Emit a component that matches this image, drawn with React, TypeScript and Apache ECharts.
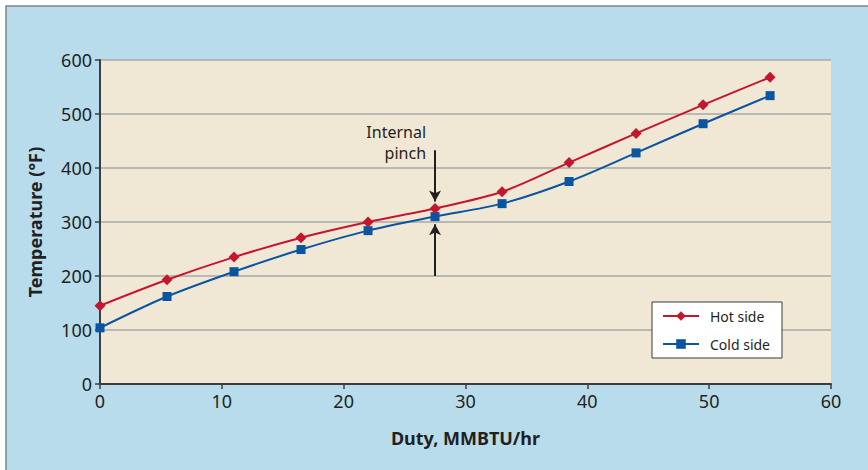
import React, { useEffect, useRef } from "react";
import * as echarts from "echarts";

const duty = [0, 5.5, 11, 16.5, 22, 27.5, 33, 38.5, 44, 49.5, 55];
const hotSide = [145, 193, 235, 271, 300, 325, 356, 410, 464, 517, 568];
const coldSide = [104, 162, 208, 249, 284, 310, 334, 375, 428, 482, 534];
const seriesNames = ["Hot side", "Cold side"];
const pinchDuty = 27.5;
const pinchLabel = "Internal\npinch";
const downArrow = [433, 338];
const upArrow = [200, 296];
const pinchLabelAt = [27.5, 447];

const FONT = "'Noto Sans', 'Open Sans', sans-serif";
const TXT = "#231f20";

export default function App() {
  const ref = useRef<HTMLDivElement>(null);
  useEffect(() => {
    if (!ref.current) return;
    const chart = echarts.init(ref.current, undefined, { renderer: "svg" });
    chart.setOption({
      animation: false,
      backgroundColor: "#ffffff",
      textStyle: { fontFamily: FONT, color: TXT },
      graphic: [
        {
          type: "rect",
          z: -10,
          silent: true,
          shape: { x: 6, y: 6, width: 880, height: 480 },
          style: { fill: "#b8dcec", stroke: "#7d8587", lineWidth: 1.5 },
        },
      ],
      grid: {
        left: 100,
        right: 37,
        top: 60,
        bottom: 86,
        show: true,
        backgroundColor: "#f0e8d4",
        borderWidth: 0,
      },
      legend: {
        orient: "vertical",
        left: 652,
        top: 302,
        width: 130,
        backgroundColor: "#ffffff",
        borderColor: "#3a3a3a",
        borderWidth: 1,
        borderRadius: 0,
        padding: [7, 12, 7, 10],
        itemWidth: 36,
        itemHeight: 12,
        itemGap: 14,
        textStyle: { fontFamily: FONT, fontSize: 14, color: TXT, padding: [0, 0, 0, 6] },
        data: seriesNames,
      },
      xAxis: {
        type: "value",
        min: 0,
        max: 60,
        interval: 10,
        name: "Duty, MMBTU/hr",
        nameLocation: "middle",
        nameGap: 45,
        nameTextStyle: { fontFamily: FONT, fontSize: 18, fontWeight: "bold", color: TXT },
        axisLine: { show: true, lineStyle: { color: "#3c3c3c", width: 2 } },
        axisTick: { show: true, length: 5, lineStyle: { color: "#3c3c3c", width: 1.5 } },
        axisLabel: { fontFamily: FONT, fontSize: 18, color: TXT, margin: 8 },
        splitLine: { show: false },
      },
      yAxis: {
        type: "value",
        min: 0,
        max: 600,
        interval: 100,
        name: "Temperature (°F)",
        nameLocation: "middle",
        nameGap: 56,
        nameTextStyle: { fontFamily: FONT, fontSize: 18, fontWeight: "bold", color: TXT },
        axisLine: { show: true, lineStyle: { color: "#3c3c3c", width: 2 } },
        axisTick: { show: true, length: 5, lineStyle: { color: "#3c3c3c", width: 1.5 } },
        axisLabel: { fontFamily: FONT, fontSize: 18, color: TXT, margin: 8 },
        splitLine: { show: true, lineStyle: { color: "#a9a9a9", width: 1.5 } },
      },
      series: [
        {
          name: seriesNames[0],
          type: "line",
          data: duty.map((d, i) => [d, hotSide[i]]),
          smooth: 0.3,
          symbol: "diamond",
          symbolSize: 11,
          lineStyle: { color: "#c4172f", width: 2 },
          itemStyle: { color: "#c4172f" },
          z: 3,
          markLine: {
            silent: true,
            symbol: ["none", "arrow"],
            symbolSize: [9, 11],
            label: { show: false },
            lineStyle: { color: "#231f20", width: 2, type: "solid" },
            data: [
              [{ coord: [pinchDuty, downArrow[0]] }, { coord: [pinchDuty, downArrow[1]] }],
              [{ coord: [pinchDuty, upArrow[0]] }, { coord: [pinchDuty, upArrow[1]] }],
            ],
          },
          markPoint: {
            silent: true,
            symbol: "circle",
            symbolSize: 0,
            label: {
              show: true,
              position: "left",
              distance: 9,
              formatter: pinchLabel,
              fontFamily: FONT,
              fontSize: 16,
              lineHeight: 21,
              color: TXT,
              align: "right",
            },
            data: [{ coord: pinchLabelAt }],
          },
        },
        {
          name: seriesNames[1],
          type: "line",
          data: duty.map((d, i) => [d, coldSide[i]]),
          smooth: 0.3,
          symbol: "rect",
          symbolSize: 9,
          lineStyle: { color: "#0b54a0", width: 2 },
          itemStyle: { color: "#0b54a0" },
          z: 2,
        },
      ],
    });
    return () => chart.dispose();
  }, []);
  return (
    <div
      ref={ref}
      style={{ position: "absolute", left: 0, top: 0, width: 868, height: 470 }}
    />
  );
}
